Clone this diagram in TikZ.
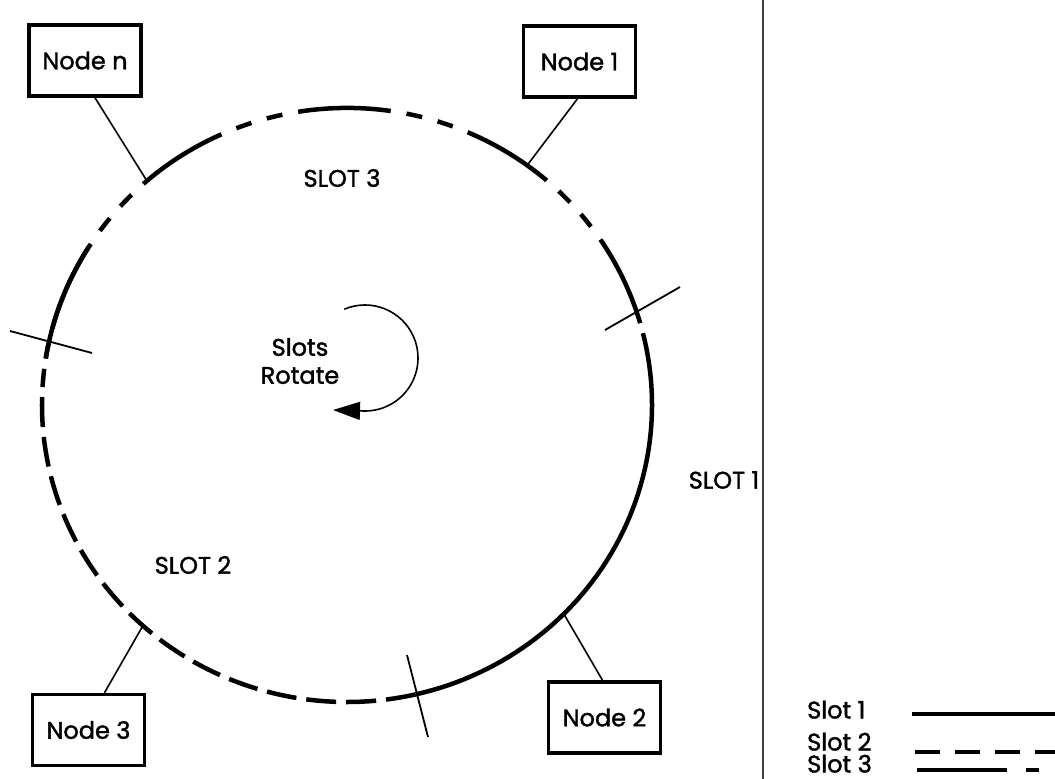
\documentclass[tikz,border=0pt]{standalone}
\usepackage{fontspec}
\newfontfamily\labfont[FakeBold=1.6]{Poppins}
\usetikzlibrary{calc,arrows.meta}
\begin{document}
\begin{tikzpicture}[x=1pt,y=1pt,
  lab/.style={font=\labfont\fontsize{24}{28}\selectfont, inner sep=0pt},
  legtext/.style={lab, anchor=west, text height=17pt, text depth=0pt},
  nodebox/.style={draw, line width=3.5pt, minimum width=112pt, minimum height=71pt, lab},
  ring/.style={line width=4.5pt},
  slotone/.style={ring},
  slottwo/.style={ring, dash pattern=on 30pt off 10pt},
  slotthree/.style={ring, dash pattern=on 93pt off 16pt on 16pt off 16pt on 16pt off 16pt},
  tickline/.style={line width=1.8pt},
  link/.style={line width=1.6pt},
  ell/.style={x radius=305pt, y radius=297pt}]
\useasboundingbox (0,0) rectangle (1055,-779);
\fill[white] (0,0) rectangle (1055,-779);
\coordinate (c) at (347,-405);
% ring segments
\draw[slotone] ($(c)+(14:305pt and 297pt)$) arc[start angle=14, end angle=-77, ell];
\draw[slottwo] ($(c)+(-77:305pt and 297pt)$) arc[start angle=-77, end angle=-187, ell];
\draw[slotthree] ($(c)+(16:305pt and 297pt)$) arc[start angle=16, end angle=171, ell];
\draw[slotone] ($(c)+(148:305pt and 297pt)$) arc[start angle=148, end angle=171, ell];
% ring attachment points
\coordinate (pn) at ($(c)+(131:305pt and 297pt)$);
\coordinate (p1) at ($(c)+(53.8:305pt and 297pt)$);
\coordinate (p2) at ($(c)+(-44.7:305pt and 297pt)$);
\coordinate (p3) at ($(c)+(-132:305pt and 297pt)$);
% ticks
\draw[tickline] (605,-330) -- (680,-287);
\draw[tickline] (407,-655) -- (428,-737);
\draw[tickline] (10,-331) -- (92,-353);
% nodes
\node[nodebox] (nn) at (85,-60.5) {Node n};
\node[nodebox] (n1) at (579.5,-61.5) {Node 1};
\node[nodebox] (n2) at (604.5,-717.5) {Node 2};
\node[nodebox] (n3) at (88.5,-730) {Node 3};
\draw[link] ([xshift=10pt]nn.south) -- (pn);
\draw[link] ([xshift=-2pt]n1.south) -- (p1);
\draw[link] ([xshift=-2pt]n2.north) -- (p2);
\draw[link] ([xshift=16pt]n3.north) -- (p3);
% labels
\node[lab] (s3) at (342,-178) {SLOT 3};
\node[lab] (s2) at (193,-565) {SLOT 2};
\node[lab] (s1) at (724,-480) {SLOT 1};
\node[lab, align=center] (rot) at (300,-361) {Slots\\Rotate};
% rotation arrow
\coordinate (rtip) at (333,-410);
\draw[line width=1.6pt, -{Triangle[length=27pt,width=18pt]}] ($(365,-358)+(113:53pt)$) arc[start angle=113, end angle=-92, radius=53pt] -- (rtip);
% divider
\draw[line width=1.5pt, black!75] (763,0) -- (763,-779);
% legend
\node[legtext] (l1) at (807,-710) {Slot 1};
\node[legtext] (l2) at (807,-742) {Slot 2};
\node[legtext] (l3) at (807,-764) {Slot 3};
\coordinate (e1) at (1055,-714);
\coordinate (e2) at (1055,-752);
\coordinate (e3) at (1055,-770);
\draw[line width=3.5pt] (912,-714) -- (e1);
\draw[line width=3.5pt, dash pattern=on 25pt off 15pt] (915,-752) -- (e2);
\draw[line width=3.5pt, dash pattern=on 90pt off 19pt on 13pt off 19pt] (917,-770) -- (e3);
\end{tikzpicture}
\end{document}
